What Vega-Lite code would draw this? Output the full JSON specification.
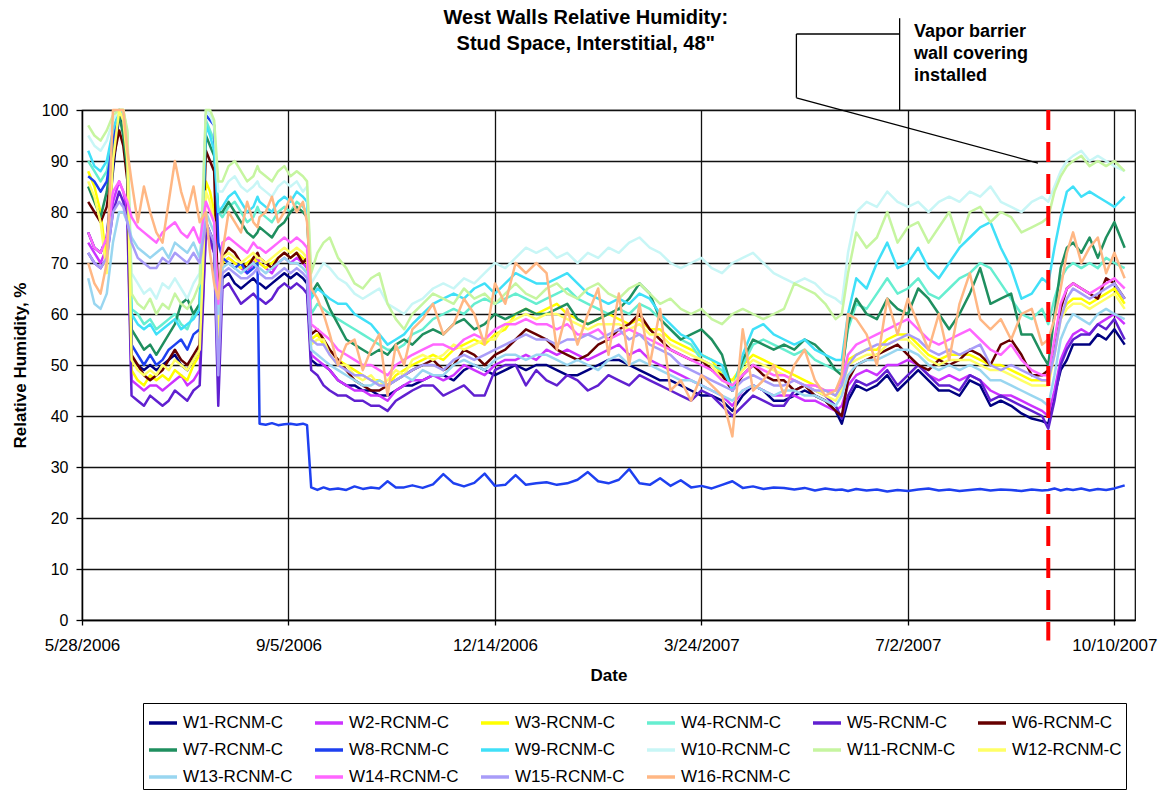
{
  "$schema": "https://vega.github.io/schema/vega-lite/v6.json",
  "width": 1053,
  "height": 510,
  "autosize": {"type": "none"},
  "padding": {"left": 82, "top": 110, "right": 26, "bottom": 174},
  "background": "white",
  "config": {
    "font": "Liberation Sans",
    "view": {"stroke": "black", "strokeWidth": 1.2},
    "axis": {
      "domainColor": "black", "domainWidth": 1.3,
      "tickColor": "black", "tickWidth": 1.3,
      "gridColor": "#111111", "gridWidth": 1.3,
      "labelColor": "black", "labelFontSize": 16,
      "titleColor": "black", "titleFontSize": 17, "titleFontWeight": "bold"
    },
    "legend": {
      "labelFontSize": 17, "labelColor": "black", "labelFont": "Liberation Sans"
    }
  },
  "encoding": {
    "x": {
      "field": "d", "type": "temporal",
      "scale": {"type": "utc", "domain": [
        {"year": 2006, "month": 5, "date": 28, "utc": true},
        {"year": 2007, "month": 10, "date": 20, "utc": true}
      ]},
      "axis": {
        "title": "Date", "format": "%-m/%-d/%Y", "labelFontSize": 17,
        "values": [
          {"year": 2006, "month": 5, "date": 28, "utc": true},
          {"year": 2006, "month": 9, "date": 5, "utc": true},
          {"year": 2006, "month": 12, "date": 14, "utc": true},
          {"year": 2007, "month": 3, "date": 24, "utc": true},
          {"year": 2007, "month": 7, "date": 2, "utc": true},
          {"year": 2007, "month": 10, "date": 10, "utc": true}
        ],
        "tickSize": 5, "labelPadding": 12, "titlePadding": 14,
        "labelOverlap": false, "labelFlush": false
      }
    },
    "y": {
      "field": "rh", "type": "quantitative",
      "scale": {"domain": [0, 100], "nice": false, "zero": false},
      "axis": {
        "title": "Relative Humidity, %",
        "values": [0, 10, 20, 30, 40, 50, 60, 70, 80, 90, 100],
        "tickSize": 6, "labelPadding": 8, "titlePadding": 12
      }
    }
  },
  "layer": [
    {
      "data": {"values": [
        {"d":"2006-05-31","W1":76,"W2":74,"W3":88,"W4":90,"W5":72,"W6":82,"W7":85,"W8":87,"W9":92,"W10":95,"W11":97,"W12":86,"W13":67,"W14":76,"W15":72,"W16":70},
        {"d":"2006-06-03","W1":73,"W2":72,"W3":85,"W4":88,"W5":70,"W6":80,"W7":82,"W8":86,"W9":89,"W10":93,"W11":95,"W12":83,"W13":62,"W14":73,"W15":70,"W16":66},
        {"d":"2006-06-06","W1":72,"W2":70,"W3":80,"W4":86,"W5":69,"W6":78,"W7":79,"W8":84,"W9":88,"W10":92,"W11":94,"W12":78,"W13":61,"W14":72,"W15":69,"W16":64},
        {"d":"2006-06-09","W1":75,"W2":73,"W3":70,"W4":88,"W5":71,"W6":81,"W7":84,"W8":86,"W9":90,"W10":94,"W11":96,"W12":68,"W13":64,"W14":75,"W15":71,"W16":70},
        {"d":"2006-06-12","W1":88,"W2":82,"W3":92,"W4":95,"W5":80,"W6":90,"W7":93,"W8":94,"W9":96,"W10":98,"W11":99,"W12":90,"W13":74,"W14":84,"W15":80,"W16":100},
        {"d":"2006-06-15","W1":99,"W2":86,"W3":100,"W4":100,"W5":84,"W6":96,"W7":99,"W8":100,"W9":100,"W10":100,"W11":100,"W12":100,"W13":80,"W14":86,"W15":82,"W16":100},
        {"d":"2006-06-17","W1":96,"W2":84,"W3":100,"W4":98,"W5":82,"W6":93,"W7":95,"W8":98,"W9":99,"W10":100,"W11":100,"W12":98,"W13":80,"W14":84,"W15":81,"W16":100},
        {"d":"2006-06-19","W1":88,"W2":80,"W3":95,"W4":92,"W5":78,"W6":86,"W7":88,"W8":92,"W9":93,"W10":95,"W11":96,"W12":90,"W13":78,"W14":82,"W15":78,"W16":92},
        {"d":"2006-06-21","W1":51,"W2":47,"W3":49,"W4":61,"W5":44,"W6":52,"W7":57,"W8":54,"W9":60,"W10":68,"W11":64,"W12":51,"W13":75,"W14":79,"W15":74,"W16":86},
        {"d":"2006-06-24","W1":50,"W2":46,"W3":47,"W4":60,"W5":43,"W6":50,"W7":55,"W8":52,"W9":58,"W10":66,"W11":62,"W12":49,"W13":73,"W14":77,"W15":71,"W16":78},
        {"d":"2006-06-27","W1":49,"W2":45,"W3":46,"W4":58,"W5":42,"W6":48,"W7":53,"W8":50,"W9":57,"W10":64,"W11":61,"W12":48,"W13":72,"W14":76,"W15":70,"W16":85},
        {"d":"2006-06-30","W1":50,"W2":46,"W3":48,"W4":59,"W5":44,"W6":47,"W7":54,"W8":52,"W9":58,"W10":65,"W11":63,"W12":49,"W13":71,"W14":75,"W15":69,"W16":80},
        {"d":"2006-07-03","W1":49,"W2":46,"W3":47,"W4":57,"W5":43,"W6":48,"W7":52,"W8":50,"W9":56,"W10":63,"W11":60,"W12":48,"W13":72,"W14":74,"W15":69,"W16":76},
        {"d":"2006-07-06","W1":50,"W2":45,"W3":48,"W4":58,"W5":42,"W6":49,"W7":54,"W8":51,"W9":57,"W10":66,"W11":62,"W12":50,"W13":73,"W14":76,"W15":71,"W16":74},
        {"d":"2006-07-09","W1":51,"W2":46,"W3":47,"W4":59,"W5":43,"W6":51,"W7":56,"W8":53,"W9":58,"W10":65,"W11":61,"W12":49,"W13":71,"W14":77,"W15":70,"W16":82},
        {"d":"2006-07-12","W1":52,"W2":47,"W3":49,"W4":60,"W5":45,"W6":53,"W7":58,"W8":54,"W9":59,"W10":67,"W11":64,"W12":51,"W13":74,"W14":78,"W15":72,"W16":90},
        {"d":"2006-07-15","W1":50,"W2":48,"W3":48,"W4":58,"W5":44,"W6":51,"W7":62,"W8":55,"W9":57,"W10":65,"W11":62,"W12":50,"W13":73,"W14":76,"W15":71,"W16":84},
        {"d":"2006-07-18","W1":49,"W2":46,"W3":47,"W4":57,"W5":43,"W6":50,"W7":63,"W8":53,"W9":58,"W10":63,"W11":61,"W12":49,"W13":72,"W14":75,"W15":70,"W16":80},
        {"d":"2006-07-21","W1":51,"W2":47,"W3":50,"W4":60,"W5":45,"W6":52,"W7":60,"W8":56,"W9":59,"W10":66,"W11":63,"W12":51,"W13":74,"W14":77,"W15":72,"W16":85},
        {"d":"2006-07-24","W1":53,"W2":49,"W3":52,"W4":62,"W5":46,"W6":54,"W7":62,"W8":57,"W9":61,"W10":68,"W11":66,"W12":53,"W13":71,"W14":74,"W15":70,"W16":78},
        {"d":"2006-07-27","W1":78,"W2":76,"W3":86,"W4":98,"W5":76,"W6":92,"W7":95,"W8":99,"W9":97,"W10":100,"W11":100,"W12":84,"W13":80,"W14":82,"W15":78,"W16":80},
        {"d":"2006-07-29","W1":76,"W2":74,"W3":84,"W4":96,"W5":75,"W6":90,"W7":93,"W8":98,"W9":95,"W10":99,"W11":100,"W12":82,"W13":78,"W14":80,"W15":76,"W16":72},
        {"d":"2006-07-31","W1":74,"W2":72,"W3":80,"W4":94,"W5":72,"W6":88,"W7":91,"W8":97,"W9":92,"W10":97,"W11":98,"W12":78,"W13":76,"W14":78,"W15":74,"W16":66},
        {"d":"2006-08-02","W1":50,"W2":52,"W3":55,"W4":80,"W5":42,"W6":62,"W7":80,"W8":74,"W9":80,"W10":84,"W11":86,"W12":56,"W13":60,"W14":62,"W15":48,"W16":63},
        {"d":"2006-08-04","W1":67,"W2":70,"W3":70,"W4":79,"W5":65,"W6":71,"W7":80,"W8":71,"W9":81,"W10":84,"W11":86,"W12":71,"W13":69,"W14":74,"W15":68,"W16":72},
        {"d":"2006-08-07","W1":68,"W2":71,"W3":71,"W4":81,"W5":66,"W6":73,"W7":82,"W8":70,"W9":83,"W10":86,"W11":89,"W12":72,"W13":70,"W14":75,"W15":69,"W16":80},
        {"d":"2006-08-10","W1":66,"W2":70,"W3":70,"W4":82,"W5":64,"W6":72,"W7":80,"W8":69,"W9":84,"W10":87,"W11":90,"W12":71,"W13":69,"W14":74,"W15":68,"W16":78},
        {"d":"2006-08-13","W1":65,"W2":69,"W3":69,"W4":80,"W5":62,"W6":70,"W7":78,"W8":70,"W9":82,"W10":85,"W11":88,"W12":70,"W13":68,"W14":73,"W15":67,"W16":76},
        {"d":"2006-08-16","W1":66,"W2":68,"W3":70,"W4":78,"W5":63,"W6":69,"W7":76,"W8":68,"W9":80,"W10":84,"W11":86,"W12":71,"W13":69,"W14":72,"W15":67,"W16":82},
        {"d":"2006-08-19","W1":67,"W2":70,"W3":71,"W4":79,"W5":64,"W6":71,"W7":75,"W8":69,"W9":81,"W10":85,"W11":87,"W12":72,"W13":70,"W14":74,"W15":68,"W16":78},
        {"d":"2006-08-21","W1":66,"W2":71,"W3":70,"W4":81,"W5":63,"W6":72,"W7":76,"W8":70,"W9":83,"W10":86,"W11":89,"W12":71,"W13":69,"W14":73,"W15":69,"W16":77},
        {"d":"2006-08-22","W1":66,"W2":70,"W3":70,"W4":80,"W5":63,"W6":71,"W7":77,"W8":38.5,"W9":82,"W10":85,"W11":88,"W12":71,"W13":69,"W14":73,"W15":68,"W16":79},
        {"d":"2006-08-25","W1":65,"W2":69,"W3":69,"W4":79,"W5":62,"W6":70,"W7":76,"W8":38.3,"W9":81,"W10":84,"W11":87,"W12":70,"W13":68,"W14":72,"W15":67,"W16":80},
        {"d":"2006-08-28","W1":66,"W2":68,"W3":70,"W4":78,"W5":63,"W6":69,"W7":75,"W8":38.6,"W9":80,"W10":83,"W11":86,"W12":71,"W13":69,"W14":73,"W15":67,"W16":83},
        {"d":"2006-08-31","W1":67,"W2":70,"W3":71,"W4":80,"W5":65,"W6":71,"W7":77,"W8":38.2,"W9":82,"W10":85,"W11":88,"W12":72,"W13":70,"W14":74,"W15":68,"W16":78},
        {"d":"2006-09-03","W1":68,"W2":71,"W3":72,"W4":81,"W5":66,"W6":72,"W7":78,"W8":38.4,"W9":83,"W10":86,"W11":89,"W12":73,"W13":71,"W14":75,"W15":69,"W16":80},
        {"d":"2006-09-06","W1":67,"W2":70,"W3":71,"W4":80,"W5":65,"W6":71,"W7":80,"W8":38.5,"W9":82,"W10":85,"W11":87,"W12":72,"W13":70,"W14":74,"W15":68,"W16":83},
        {"d":"2006-09-09","W1":68,"W2":71,"W3":72,"W4":82,"W5":66,"W6":72,"W7":81,"W8":38.3,"W9":84,"W10":86,"W11":88,"W12":73,"W13":70,"W14":75,"W15":69,"W16":80},
        {"d":"2006-09-12","W1":67,"W2":70,"W3":71,"W4":81,"W5":65,"W6":70,"W7":80,"W8":38.5,"W9":83,"W10":84,"W11":87,"W12":72,"W13":69,"W14":74,"W15":68,"W16":82},
        {"d":"2006-09-14","W1":66,"W2":69,"W3":70,"W4":80,"W5":64,"W6":71,"W7":79,"W8":38.2,"W9":82,"W10":85,"W11":86,"W12":71,"W13":68,"W14":73,"W15":67,"W16":78},
        {"d":"2006-09-16","W1":51,"W2":52,"W3":55,"W4":60,"W5":49,"W6":56,"W7":64,"W8":26,"W9":63,"W10":66,"W11":68,"W12":54,"W13":53,"W14":58,"W15":55,"W16":65},
        {"d":"2006-09-19","W1":50,"W2":51,"W3":56,"W4":62,"W5":48,"W6":57,"W7":66,"W8":25.5,"W9":65,"W10":68,"W11":72,"W12":55,"W13":52,"W14":57,"W15":54,"W16":63},
        {"d":"2006-09-22","W1":50,"W2":50,"W3":54,"W4":61,"W5":46,"W6":55,"W7":64,"W8":26,"W9":64,"W10":70,"W11":74,"W12":55,"W13":51,"W14":56,"W15":54,"W16":60},
        {"d":"2006-09-25","W1":49,"W2":49,"W3":53,"W4":60,"W5":45,"W6":53,"W7":61,"W8":25.6,"W9":63,"W10":69,"W11":75,"W12":52,"W13":50,"W14":55,"W15":52,"W16":56},
        {"d":"2006-09-29","W1":47,"W2":47,"W3":51,"W4":59,"W5":44,"W6":51,"W7":58,"W8":25.8,"W9":62,"W10":67,"W11":71,"W12":50,"W13":49,"W14":53,"W15":50,"W16":50},
        {"d":"2006-10-03","W1":46,"W2":46,"W3":50,"W4":58,"W5":44,"W6":49,"W7":55,"W8":25.5,"W9":62,"W10":66,"W11":69,"W12":50,"W13":48,"W14":52,"W15":49,"W16":54},
        {"d":"2006-10-07","W1":46,"W2":45,"W3":49,"W4":57,"W5":43,"W6":47,"W7":54,"W8":26.2,"W9":60,"W10":64,"W11":66,"W12":48,"W13":47,"W14":51,"W15":48,"W16":55},
        {"d":"2006-10-11","W1":45,"W2":45,"W3":48,"W4":56,"W5":43,"W6":46,"W7":53,"W8":25.7,"W9":59,"W10":63,"W11":65,"W12":47,"W13":46,"W14":50,"W15":48,"W16":49},
        {"d":"2006-10-15","W1":45,"W2":44,"W3":47,"W4":55,"W5":42,"W6":45,"W7":52,"W8":26,"W9":58,"W10":64,"W11":67,"W12":48,"W13":46,"W14":50,"W15":47,"W16":53},
        {"d":"2006-10-19","W1":44,"W2":44,"W3":47,"W4":54,"W5":42,"W6":45,"W7":53,"W8":25.8,"W9":56,"W10":65,"W11":68,"W12":46,"W13":47,"W14":49,"W15":46,"W16":56},
        {"d":"2006-10-23","W1":44,"W2":43,"W3":46,"W4":53,"W5":41,"W6":46,"W7":52,"W8":27.2,"W9":54,"W10":62,"W11":62,"W12":47,"W13":46,"W14":48,"W15":46,"W16":44},
        {"d":"2006-10-27","W1":45,"W2":45,"W3":48,"W4":53,"W5":43,"W6":47,"W7":54,"W8":26,"W9":55,"W10":61,"W11":59,"W12":49,"W13":47,"W14":50,"W15":47,"W16":54},
        {"d":"2006-10-31","W1":46,"W2":46,"W3":49,"W4":54,"W5":44,"W6":48,"W7":55,"W8":26,"W9":56,"W10":60,"W11":57,"W12":48,"W13":48,"W14":51,"W15":48,"W16":50},
        {"d":"2006-11-04","W1":46,"W2":47,"W3":50,"W4":56,"W5":45,"W6":49,"W7":54,"W8":26.4,"W9":58,"W10":62,"W11":60,"W12":51,"W13":47,"W14":52,"W15":49,"W16":57},
        {"d":"2006-11-09","W1":47,"W2":47,"W3":51,"W4":57,"W5":46,"W6":50,"W7":56,"W8":25.9,"W9":60,"W10":63,"W11":62,"W12":52,"W13":49,"W14":53,"W15":50,"W16":59},
        {"d":"2006-11-14","W1":48,"W2":48,"W3":52,"W4":59,"W5":46,"W6":51,"W7":57,"W8":26.6,"W9":62,"W10":65,"W11":64,"W12":51,"W13":48,"W14":54,"W15":50,"W16":62},
        {"d":"2006-11-19","W1":48,"W2":47,"W3":51,"W4":60,"W5":44,"W6":49,"W7":56,"W8":28.6,"W9":63,"W10":66,"W11":63,"W12":52,"W13":48,"W14":54,"W15":49,"W16":56},
        {"d":"2006-11-24","W1":47,"W2":48,"W3":53,"W4":61,"W5":45,"W6":50,"W7":58,"W8":26.8,"W9":64,"W10":65,"W11":62,"W12":54,"W13":50,"W14":53,"W15":51,"W16":58},
        {"d":"2006-11-29","W1":49,"W2":50,"W3":54,"W4":60,"W5":46,"W6":53,"W7":59,"W8":26.2,"W9":63,"W10":67,"W11":65,"W12":53,"W13":51,"W14":55,"W15":52,"W16":63},
        {"d":"2006-12-04","W1":50,"W2":49,"W3":55,"W4":62,"W5":44,"W6":52,"W7":57,"W8":26.9,"W9":65,"W10":66,"W11":63,"W12":54,"W13":50,"W14":56,"W15":51,"W16":60},
        {"d":"2006-12-09","W1":49,"W2":48,"W3":54,"W4":63,"W5":44,"W6":50,"W7":58,"W8":28.7,"W9":66,"W10":68,"W11":64,"W12":55,"W13":49,"W14":55,"W15":52,"W16":54},
        {"d":"2006-12-14","W1":48,"W2":50,"W3":56,"W4":62,"W5":49,"W6":52,"W7":60,"W8":26.3,"W9":64,"W10":70,"W11":62,"W12":55,"W13":51,"W14":57,"W15":53,"W16":66},
        {"d":"2006-12-19","W1":49,"W2":51,"W3":57,"W4":63,"W5":50,"W6":53,"W7":59,"W8":26.5,"W9":66,"W10":69,"W11":64,"W12":58,"W13":52,"W14":58,"W15":54,"W16":62},
        {"d":"2006-12-24","W1":50,"W2":51,"W3":60,"W4":64,"W5":50,"W6":55,"W7":60,"W8":28.4,"W9":68,"W10":71,"W11":66,"W12":59,"W13":52,"W14":58,"W15":55,"W16":70},
        {"d":"2006-12-29","W1":49,"W2":52,"W3":61,"W4":63,"W5":46,"W6":57,"W7":61,"W8":26.5,"W9":67,"W10":73,"W11":64,"W12":60,"W13":51,"W14":59,"W15":56,"W16":68},
        {"d":"2007-01-03","W1":50,"W2":51,"W3":60,"W4":62,"W5":49,"W6":56,"W7":60,"W8":26.8,"W9":66,"W10":72,"W11":63,"W12":59,"W13":52,"W14":58,"W15":55,"W16":70},
        {"d":"2007-01-08","W1":50,"W2":53,"W3":61,"W4":63,"W5":47,"W6":55,"W7":60,"W8":27,"W9":66,"W10":73,"W11":65,"W12":60,"W13":52,"W14":58,"W15":55,"W16":68},
        {"d":"2007-01-13","W1":49,"W2":52,"W3":62,"W4":64,"W5":46,"W6":53,"W7":61,"W8":26.5,"W9":67,"W10":71,"W11":66,"W12":60,"W13":51,"W14":57,"W15":54,"W16":53},
        {"d":"2007-01-18","W1":48,"W2":53,"W3":60,"W4":65,"W5":48,"W6":52,"W7":62,"W8":26.8,"W9":68,"W10":72,"W11":64,"W12":59,"W13":50,"W14":58,"W15":55,"W16":61},
        {"d":"2007-01-23","W1":48,"W2":52,"W3":59,"W4":63,"W5":47,"W6":51,"W7":59,"W8":27.5,"W9":66,"W10":70,"W11":63,"W12":58,"W13":51,"W14":56,"W15":55,"W16":54},
        {"d":"2007-01-28","W1":49,"W2":51,"W3":58,"W4":62,"W5":45,"W6":52,"W7":58,"W8":29,"W9":64,"W10":72,"W11":65,"W12":57,"W13":50,"W14":56,"W15":56,"W16":60},
        {"d":"2007-02-02","W1":50,"W2":52,"W3":59,"W4":61,"W5":46,"W6":54,"W7":59,"W8":27.2,"W9":63,"W10":71,"W11":66,"W12":58,"W13":49,"W14":57,"W15":55,"W16":65},
        {"d":"2007-02-07","W1":51,"W2":53,"W3":60,"W4":60,"W5":48,"W6":55,"W7":60,"W8":26.8,"W9":62,"W10":73,"W11":64,"W12":58,"W13":51,"W14":55,"W15":56,"W16":52},
        {"d":"2007-02-12","W1":51,"W2":54,"W3":59,"W4":61,"W5":47,"W6":57,"W7":61,"W8":27.5,"W9":63,"W10":72,"W11":63,"W12":58,"W13":52,"W14":56,"W15":57,"W16":64},
        {"d":"2007-02-17","W1":50,"W2":52,"W3":58,"W4":60,"W5":46,"W6":58,"W7":63,"W8":29.6,"W9":62,"W10":74,"W11":65,"W12":57,"W13":50,"W14":57,"W15":55,"W16":50},
        {"d":"2007-02-22","W1":49,"W2":53,"W3":59,"W4":62,"W5":48,"W6":60,"W7":66,"W8":26.8,"W9":64,"W10":75,"W11":66,"W12":58,"W13":51,"W14":56,"W15":56,"W16":62},
        {"d":"2007-02-27","W1":48,"W2":51,"W3":57,"W4":61,"W5":47,"W6":57,"W7":64,"W8":26.5,"W9":63,"W10":73,"W11":64,"W12":56,"W13":50,"W14":55,"W15":54,"W16":50},
        {"d":"2007-03-04","W1":47,"W2":50,"W3":57,"W4":59,"W5":46,"W6":55,"W7":59,"W8":27.8,"W9":60,"W10":72,"W11":62,"W12":56,"W13":49,"W14":54,"W15":53,"W16":61},
        {"d":"2007-03-09","W1":47,"W2":49,"W3":55,"W4":57,"W5":45,"W6":53,"W7":57,"W8":26.3,"W9":58,"W10":70,"W11":63,"W12":54,"W13":48,"W14":53,"W15":52,"W16":45},
        {"d":"2007-03-14","W1":46,"W2":48,"W3":54,"W4":55,"W5":44,"W6":52,"W7":55,"W8":27.4,"W9":56,"W10":69,"W11":61,"W12":53,"W13":47,"W14":52,"W15":50,"W16":47},
        {"d":"2007-03-19","W1":45,"W2":47,"W3":53,"W4":54,"W5":43,"W6":51,"W7":56,"W8":26,"W9":55,"W10":70,"W11":60,"W12":52,"W13":47,"W14":51,"W15":49,"W16":43},
        {"d":"2007-03-24","W1":44,"W2":46,"W3":52,"W4":51,"W5":45,"W6":51,"W7":57,"W8":26.3,"W9":52,"W10":71,"W11":61,"W12":51,"W13":46,"W14":50,"W15":48,"W16":48},
        {"d":"2007-03-29","W1":44,"W2":45,"W3":51,"W4":50,"W5":44,"W6":49,"W7":55,"W8":25.8,"W9":51,"W10":69,"W11":59,"W12":50,"W13":45,"W14":49,"W15":47,"W16":46},
        {"d":"2007-04-03","W1":43,"W2":44,"W3":48,"W4":49,"W5":42,"W6":48,"W7":52,"W8":26.5,"W9":50,"W10":68,"W11":58,"W12":47,"W13":44,"W14":47,"W15":46,"W16":44},
        {"d":"2007-04-08","W1":41,"W2":42,"W3":47,"W4":45,"W5":40,"W6":45,"W7":45,"W8":27.2,"W9":45,"W10":70,"W11":60,"W12":46,"W13":43,"W14":46,"W15":45,"W16":36},
        {"d":"2007-04-13","W1":44,"W2":45,"W3":50,"W4":50,"W5":42,"W6":48,"W7":51,"W8":25.9,"W9":52,"W10":71,"W11":61,"W12":49,"W13":45,"W14":48,"W15":47,"W16":57},
        {"d":"2007-04-18","W1":46,"W2":46,"W3":52,"W4":54,"W5":44,"W6":50,"W7":55,"W8":26.2,"W9":57,"W10":72,"W11":60,"W12":51,"W13":46,"W14":50,"W15":48,"W16":45},
        {"d":"2007-04-23","W1":45,"W2":45,"W3":51,"W4":55,"W5":43,"W6":48,"W7":54,"W8":25.7,"W9":58,"W10":70,"W11":59,"W12":50,"W13":45,"W14":49,"W15":47,"W16":47},
        {"d":"2007-04-28","W1":43,"W2":44,"W3":50,"W4":54,"W5":42,"W6":47,"W7":53,"W8":26,"W9":56,"W10":68,"W11":60,"W12":49,"W13":44,"W14":48,"W15":46,"W16":50},
        {"d":"2007-05-03","W1":43,"W2":44,"W3":49,"W4":53,"W5":42,"W6":47,"W7":54,"W8":25.9,"W9":55,"W10":67,"W11":61,"W12":48,"W13":45,"W14":48,"W15":46,"W16":44},
        {"d":"2007-05-08","W1":44,"W2":44,"W3":48,"W4":52,"W5":45,"W6":45,"W7":53,"W8":25.6,"W9":54,"W10":66,"W11":66,"W12":47,"W13":45,"W14":47,"W15":47,"W16":50},
        {"d":"2007-05-13","W1":45,"W2":43,"W3":47,"W4":53,"W5":46,"W6":46,"W7":55,"W8":25.9,"W9":55,"W10":67,"W11":65,"W12":46,"W13":44,"W14":46,"W15":46,"W16":53},
        {"d":"2007-05-18","W1":44,"W2":43,"W3":46,"W4":51,"W5":45,"W6":44,"W7":54,"W8":25.4,"W9":53,"W10":66,"W11":64,"W12":45,"W13":44,"W14":46,"W15":45,"W16":47},
        {"d":"2007-05-23","W1":43,"W2":42,"W3":45,"W4":50,"W5":44,"W6":43,"W7":52,"W8":25.8,"W9":52,"W10":64,"W11":62,"W12":44,"W13":43,"W14":45,"W15":45,"W16":44},
        {"d":"2007-05-28","W1":41,"W2":41,"W3":44,"W4":49,"W5":42,"W6":41,"W7":49,"W8":25.5,"W9":51,"W10":63,"W11":59,"W12":43,"W13":42,"W14":45,"W15":44,"W16":45},
        {"d":"2007-05-31","W1":38.5,"W2":42,"W3":46,"W4":49,"W5":39.5,"W6":40,"W7":48,"W8":25.6,"W9":51,"W10":62,"W11":60,"W12":45,"W13":44,"W14":47,"W15":46,"W16":48},
        {"d":"2007-06-03","W1":43,"W2":46,"W3":51,"W4":57,"W5":44,"W6":47,"W7":58,"W8":25.3,"W9":60,"W10":72,"W11":68,"W12":50,"W13":48,"W14":52,"W15":50,"W16":60},
        {"d":"2007-06-07","W1":46,"W2":48,"W3":52,"W4":62,"W5":47,"W6":50,"W7":63,"W8":25.7,"W9":67,"W10":80,"W11":76,"W12":51,"W13":50,"W14":54,"W15":52,"W16":59},
        {"d":"2007-06-12","W1":45,"W2":49,"W3":53,"W4":61,"W5":46,"W6":51,"W7":60,"W8":25.4,"W9":65,"W10":82,"W11":73,"W12":52,"W13":51,"W14":55,"W15":53,"W16":56},
        {"d":"2007-06-17","W1":46,"W2":48,"W3":53,"W4":64,"W5":47,"W6":52,"W7":59,"W8":25.6,"W9":70,"W10":81,"W11":75,"W12":52,"W13":51,"W14":56,"W15":54,"W16":50},
        {"d":"2007-06-22","W1":48,"W2":50,"W3":55,"W4":67,"W5":49,"W6":53,"W7":63,"W8":25.2,"W9":74,"W10":84,"W11":80,"W12":54,"W13":52,"W14":57,"W15":54,"W16":63},
        {"d":"2007-06-27","W1":45,"W2":50,"W3":56,"W4":64,"W5":46,"W6":54,"W7":61,"W8":25.5,"W9":69,"W10":82,"W11":74,"W12":55,"W13":53,"W14":58,"W15":55,"W16":56},
        {"d":"2007-07-02","W1":47,"W2":51,"W3":56,"W4":65,"W5":48,"W6":52,"W7":60,"W8":25.3,"W9":70,"W10":81,"W11":77,"W12":55,"W13":53,"W14":59,"W15":56,"W16":63},
        {"d":"2007-07-07","W1":49,"W2":50,"W3":54,"W4":67,"W5":50,"W6":50,"W7":65,"W8":25.6,"W9":73,"W10":82,"W11":78,"W12":53,"W13":52,"W14":57,"W15":55,"W16":58},
        {"d":"2007-07-12","W1":47,"W2":48,"W3":52,"W4":64,"W5":48,"W6":49,"W7":63,"W8":25.8,"W9":69,"W10":80,"W11":74,"W12":51,"W13":50,"W14":55,"W15":53,"W16":53},
        {"d":"2007-07-17","W1":45,"W2":47,"W3":51,"W4":63,"W5":46,"W6":51,"W7":60,"W8":25.4,"W9":67,"W10":82,"W11":77,"W12":50,"W13":49,"W14":54,"W15":52,"W16":60},
        {"d":"2007-07-22","W1":45,"W2":48,"W3":52,"W4":65,"W5":46,"W6":50,"W7":57,"W8":25.6,"W9":70,"W10":83,"W11":80,"W12":51,"W13":50,"W14":55,"W15":53,"W16":51},
        {"d":"2007-07-27","W1":44,"W2":47,"W3":52,"W4":67,"W5":45,"W6":51,"W7":60,"W8":25.3,"W9":73,"W10":82,"W11":74,"W12":51,"W13":49,"W14":56,"W15":52,"W16":62},
        {"d":"2007-08-01","W1":47,"W2":48,"W3":52,"W4":68,"W5":48,"W6":53,"W7":64,"W8":25.5,"W9":75,"W10":84,"W11":80,"W12":51,"W13":50,"W14":57,"W15":53,"W16":68},
        {"d":"2007-08-06","W1":46,"W2":47,"W3":51,"W4":70,"W5":47,"W6":52,"W7":69,"W8":25.7,"W9":77,"W10":83,"W11":81,"W12":50,"W13":49,"W14":55,"W15":54,"W16":59},
        {"d":"2007-08-11","W1":42,"W2":45,"W3":50,"W4":69,"W5":43,"W6":50,"W7":62,"W8":25.4,"W9":78,"W10":85,"W11":78,"W12":49,"W13":47,"W14":53,"W15":50,"W16":57},
        {"d":"2007-08-16","W1":43,"W2":44,"W3":50,"W4":66,"W5":44,"W6":54,"W7":63,"W8":25.6,"W9":73,"W10":82,"W11":80,"W12":49,"W13":47,"W14":52,"W15":49,"W16":59},
        {"d":"2007-08-21","W1":42,"W2":44,"W3":49,"W4":63,"W5":43,"W6":55,"W7":64,"W8":25.5,"W9":69,"W10":81,"W11":79,"W12":48,"W13":46,"W14":54,"W15":50,"W16":55},
        {"d":"2007-08-26","W1":40.5,"W2":43,"W3":48,"W4":60,"W5":42,"W6":52,"W7":56,"W8":25.3,"W9":63,"W10":80,"W11":76,"W12":47,"W13":45,"W14":51,"W15":49,"W16":60},
        {"d":"2007-08-31","W1":39.5,"W2":42,"W3":47,"W4":59,"W5":41,"W6":48,"W7":56,"W8":25.6,"W9":64,"W10":82,"W11":77,"W12":46,"W13":44,"W14":49,"W15":48,"W16":61},
        {"d":"2007-09-05","W1":39,"W2":41,"W3":47,"W4":61,"W5":40,"W6":48,"W7":52,"W8":25.4,"W9":67,"W10":83,"W11":78,"W12":46,"W13":43,"W14":48,"W15":47,"W16":54},
        {"d":"2007-09-08","W1":38.5,"W2":40,"W3":47,"W4":58,"W5":37.5,"W6":49,"W7":50,"W8":25.5,"W9":66,"W10":82,"W11":79,"W12":46,"W13":42,"W14":48,"W15":47,"W16":55},
        {"d":"2007-09-11","W1":44,"W2":45,"W3":53,"W4":63,"W5":43,"W6":53,"W7":60,"W8":25.8,"W9":73,"W10":85,"W11":84,"W12":52,"W13":48,"W14":55,"W15":52,"W16":59},
        {"d":"2007-09-14","W1":49,"W2":51,"W3":60,"W4":67,"W5":50,"W6":61,"W7":69,"W8":25.4,"W9":79,"W10":88,"W11":87,"W12":59,"W13":55,"W14":62,"W15":59,"W16":65},
        {"d":"2007-09-17","W1":51,"W2":54,"W3":62,"W4":69,"W5":53,"W6":65,"W7":73,"W8":25.7,"W9":84,"W10":90,"W11":89,"W12":61,"W13":58,"W14":65,"W15":63,"W16":72},
        {"d":"2007-09-20","W1":54,"W2":56,"W3":63,"W4":70,"W5":55,"W6":66,"W7":74,"W8":25.5,"W9":85,"W10":91,"W11":90,"W12":62,"W13":60,"W14":66,"W15":65,"W16":76},
        {"d":"2007-09-24","W1":54,"W2":57,"W3":63,"W4":69,"W5":56,"W6":65,"W7":72,"W8":25.8,"W9":83,"W10":92,"W11":91,"W12":62,"W13":59,"W14":65,"W15":64,"W16":70},
        {"d":"2007-09-28","W1":54,"W2":56,"W3":62,"W4":70,"W5":56,"W6":64,"W7":75,"W8":25.4,"W9":84,"W10":90,"W11":89,"W12":61,"W13":58,"W14":64,"W15":63,"W16":73},
        {"d":"2007-10-02","W1":56,"W2":58,"W3":63,"W4":69,"W5":58,"W6":63,"W7":71,"W8":25.7,"W9":83,"W10":91,"W11":90,"W12":62,"W13":60,"W14":65,"W15":64,"W16":75},
        {"d":"2007-10-06","W1":55,"W2":59,"W3":64,"W4":71,"W5":57,"W6":67,"W7":75,"W8":25.5,"W9":82,"W10":90,"W11":89,"W12":63,"W13":61,"W14":66,"W15":65,"W16":68},
        {"d":"2007-10-10","W1":57,"W2":60,"W3":65,"W4":70,"W5":59,"W6":66,"W7":78,"W8":25.8,"W9":81,"W10":89,"W11":90,"W12":64,"W13":60,"W14":67,"W15":66,"W16":72},
        {"d":"2007-10-15","W1":54,"W2":58,"W3":62,"W4":69,"W5":55,"W6":63,"W7":73,"W8":26.4,"W9":83,"W10":88,"W11":88,"W12":61,"W13":59,"W14":65,"W15":63,"W16":67}
      ]},
      "transform": [
        {"fold": ["W1","W2","W3","W4","W5","W6","W7","W8","W9","W10","W11","W12","W13","W14","W15","W16"], "as": ["series", "rh"]}
      ],
      "mark": {"type": "line", "strokeWidth": 2.5, "strokeJoin": "round"},
      "encoding": {
        "color": {
          "field": "series", "type": "nominal",
          "scale": {
            "domain": ["W1","W2","W3","W4","W5","W6","W7","W8","W9","W10","W11","W12","W13","W14","W15","W16"],
            "range": ["#000080","#CC33FF","#FFFF00","#66EED0","#6020D0","#660000","#1F8F5F","#1E40F0","#40E0F8","#C8F6F6","#C6F5A0","#FFFF66","#99D6F0","#FF66FF","#A89CF8","#FFB784"]
          },
          "legend": {
            "title": null, "orient": "none", "legendX": 61, "legendY": 593,
            "direction": "horizontal", "columns": 6,
            "symbolType": "stroke", "symbolSize": 784, "symbolStrokeWidth": 3.5,
            "labelExpr": "datum.label + '-RCNM-C'", "labelOffset": 4,
            "columnPadding": 15, "rowPadding": 3, "padding": 4,
            "strokeColor": "black", "fillColor": "white"
          }
        }
      }
    },
    {
      "data": {"values": [{"d": "2007-09-08", "rh": 100, "rh2": -4}]},
      "mark": {"type": "rule", "color": "#FF0000", "strokeWidth": 4, "strokeDash": [20, 12]},
      "encoding": {"y2": {"field": "rh2"}}
    },
    {
      "data": {"values": [
        {"d": "2007-06-28", "d2": "2007-06-28", "rh": 118, "rh2": 100},
        {"d": "2007-05-09", "d2": "2007-06-28", "rh": 114.9, "rh2": 114.9},
        {"d": "2007-05-09", "d2": "2007-05-09", "rh": 114.9, "rh2": 102.4},
        {"d": "2007-05-09", "d2": "2007-09-03", "rh": 102.4, "rh2": 89.6}
      ]},
      "mark": {"type": "rule", "color": "black", "strokeWidth": 1.3},
      "encoding": {"x2": {"field": "d2"}, "y2": {"field": "rh2"}}
    },
    {
      "data": {"values": [{"d": "2007-07-05", "rh": 117.0, "note": "Vapor barrier\nwall covering\ninstalled"}]},
      "mark": {"type": "text", "align": "left", "baseline": "top", "lineBreak": "\n", "fontSize": 18, "fontWeight": "bold", "lineHeight": 22, "color": "black"},
      "encoding": {"text": {"field": "note"}}
    },
    {
      "data": {"values": [{"d": "2007-01-27", "rh": 116.8, "heading": "West Walls Relative Humidity:\nStud Space, Interstitial, 48\""}]},
      "mark": {"type": "text", "align": "center", "baseline": "alphabetic", "lineBreak": "\n", "fontSize": 20, "fontWeight": "bold", "lineHeight": 26, "color": "black"},
      "encoding": {"text": {"field": "heading"}}
    }
  ]
}
